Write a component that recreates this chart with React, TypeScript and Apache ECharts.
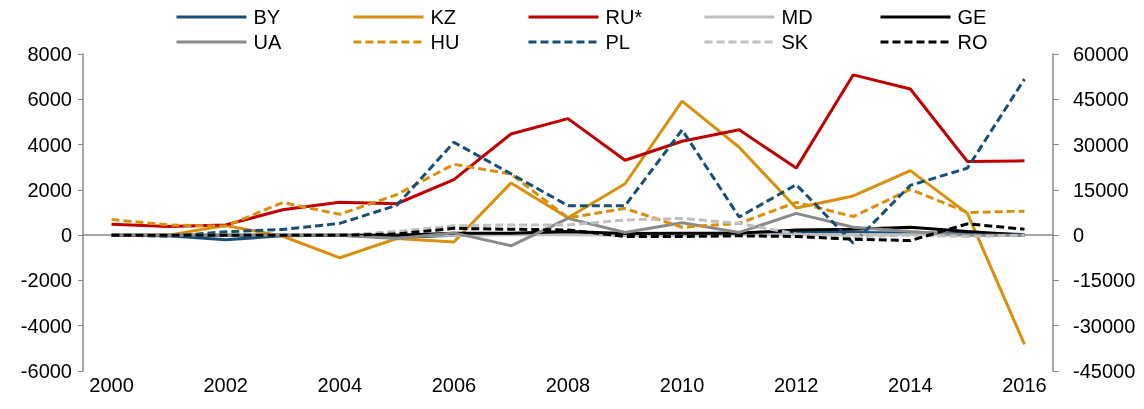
import React, { useEffect, useRef } from "react";
import * as echarts from "echarts";

const years = ["2000","2001","2002","2003","2004","2005","2006","2007","2008","2009","2010","2011","2012","2013","2014","2015","2016"];

const BY = [0, -30, -200, -30, 0, -100, 0, 50, 100, 0, 50, 100, 120, 120, 100, 80, 30];
const KZ = [0, 0, 430, -50, -1000, -150, -300, 2300, 770, 2270, 5920, 3880, 1200, 1730, 2850, 960, -4820];
const RU = [3600, 2850, 3400, 8400, 10900, 10400, 18400, 33500, 38600, 24800, 31100, 34900, 22200, 53100, 48400, 24400, 24600];
const MD = [0, 0, 0, 0, 0, 0, 0, 20, 20, 0, 0, 20, 20, 30, 20, 0, 0];
const GE = [0, 0, 0, 0, 0, 0, 80, 80, 160, 70, 80, 80, 230, 260, 350, 160, 0];
const UA = [0, 0, 0, 0, 0, -150, 100, -470, 740, 120, 550, 120, 960, 350, 160, 0, 0];
const HU = [690, 450, 400, 1440, 920, 1790, 3130, 2700, 760, 1180, 350, 520, 1450, 820, 2020, 1000, 1060];
const PL = [0, -50, 150, 250, 520, 1320, 4100, 2710, 1300, 1300, 4650, 800, 2230, -360, 2200, 2960, 6890];
const SK = [0, 0, 0, 0, 0, 160, 410, 450, 450, 670, 740, 520, 50, -60, 0, -60, 0];
const RO = [0, 0, 0, 0, 0, 50, 300, 260, 230, -60, -60, -30, -60, -180, -240, 500, 260];

const leftTicks = { min: -6000, max: 8000, interval: 2000 };
const rightTicks = { min: -45000, max: 60000, interval: 15000 };

const FONT = "'Liberation Sans Narrow', 'Liberation Sans', Arial, sans-serif";
const FS = 20;

const DARKBLUE = "#174f77";
const ORANGE = "#d8900c";
const RED = "#c00000";
const LIGHTGRAY = "#c0c0c0";
const MIDGRAY = "#8a8a8a";
const BLACK = "#000000";

const seriesDefs = [
  { name: "BY", data: BY, color: DARKBLUE, dashed: false, axis: 0 },
  { name: "KZ", data: KZ, color: ORANGE, dashed: false, axis: 0 },
  { name: "RU*", data: RU, color: RED, dashed: false, axis: 1 },
  { name: "MD", data: MD, color: LIGHTGRAY, dashed: false, axis: 0 },
  { name: "GE", data: GE, color: BLACK, dashed: false, axis: 0 },
  { name: "UA", data: UA, color: MIDGRAY, dashed: false, axis: 0 },
  { name: "HU", data: HU, color: ORANGE, dashed: true, axis: 0 },
  { name: "PL", data: PL, color: DARKBLUE, dashed: true, axis: 0 },
  { name: "SK", data: SK, color: LIGHTGRAY, dashed: true, axis: 0 },
  { name: "RO", data: RO, color: BLACK, dashed: true, axis: 0 },
];

export default function App() {
  const ref = useRef<HTMLDivElement>(null);
  useEffect(() => {
    if (!ref.current) return;
    const chart = echarts.init(ref.current, undefined, { renderer: "svg" });
    const colX = [175, 352, 527, 703, 879];
    const rowY = [7, 32];
    const legends = seriesDefs.map((s, i) => ({
      data: [s.name],
      left: colX[i % 5],
      top: rowY[Math.floor(i / 5)],
      itemWidth: 70,
      itemHeight: 14,
      itemGap: 0,
      padding: 0,
      selectedMode: false,
      itemStyle: { opacity: 0 },
      lineStyle: { width: 3, type: s.dashed ? [8, 4] : "solid", cap: "butt" },
      textStyle: { fontFamily: FONT, fontSize: FS, color: "#000", padding: [0, 0, 0, 2] },
    }));
    const series = seriesDefs.map((s, i) => ({
      name: s.name,
      type: "line",
      yAxisIndex: s.axis,
      data: s.data,
      symbol: "none",
      lineStyle: { color: s.color, width: 3, type: s.dashed ? [8, 4] : "solid", cap: "butt" },
      itemStyle: { color: s.color },
      z: 2 + i,
      markLine: i === 0 ? {
        silent: true,
        symbol: "none",
        label: { show: false },
        lineStyle: { color: "#888", width: 1.5, type: "solid" },
        data: [{ yAxis: 0 }],
        z: 1,
      } : undefined,
    }));
    const plain = (v: number) => String(v);
    chart.setOption({
      animation: false,
      legend: legends,
      grid: { left: 83, right: 91, top: 54, bottom: 38 },
      xAxis: {
        type: "category",
        data: years,
        boundaryGap: true,
        axisLine: { show: false },
        axisTick: { show: false },
        axisLabel: { interval: 1, fontFamily: FONT, fontSize: FS, color: "#000", margin: 4 },
      },
      yAxis: [
        {
          type: "value",
          ...leftTicks,
          position: "left",
          axisLine: { show: true, lineStyle: { color: "#888", width: 1.5 } },
          axisTick: { show: true, length: 5, lineStyle: { color: "#888" } },
          splitLine: { show: false },
          axisLabel: { fontFamily: FONT, fontSize: FS, color: "#000", margin: 11, formatter: plain },
        },
        {
          type: "value",
          ...rightTicks,
          position: "right",
          axisLine: { show: true, lineStyle: { color: "#888", width: 1.5 } },
          axisTick: { show: true, length: 6, lineStyle: { color: "#888" } },
          splitLine: { show: false },
          axisLabel: { fontFamily: FONT, fontSize: FS, color: "#000", margin: 20, formatter: plain },
        },
      ],
      series,
    });
    return () => chart.dispose();
  }, []);
  return <div ref={ref} style={{ position: "fixed", left: 0, top: 0, width: 1144, height: 409 }} />;
}
